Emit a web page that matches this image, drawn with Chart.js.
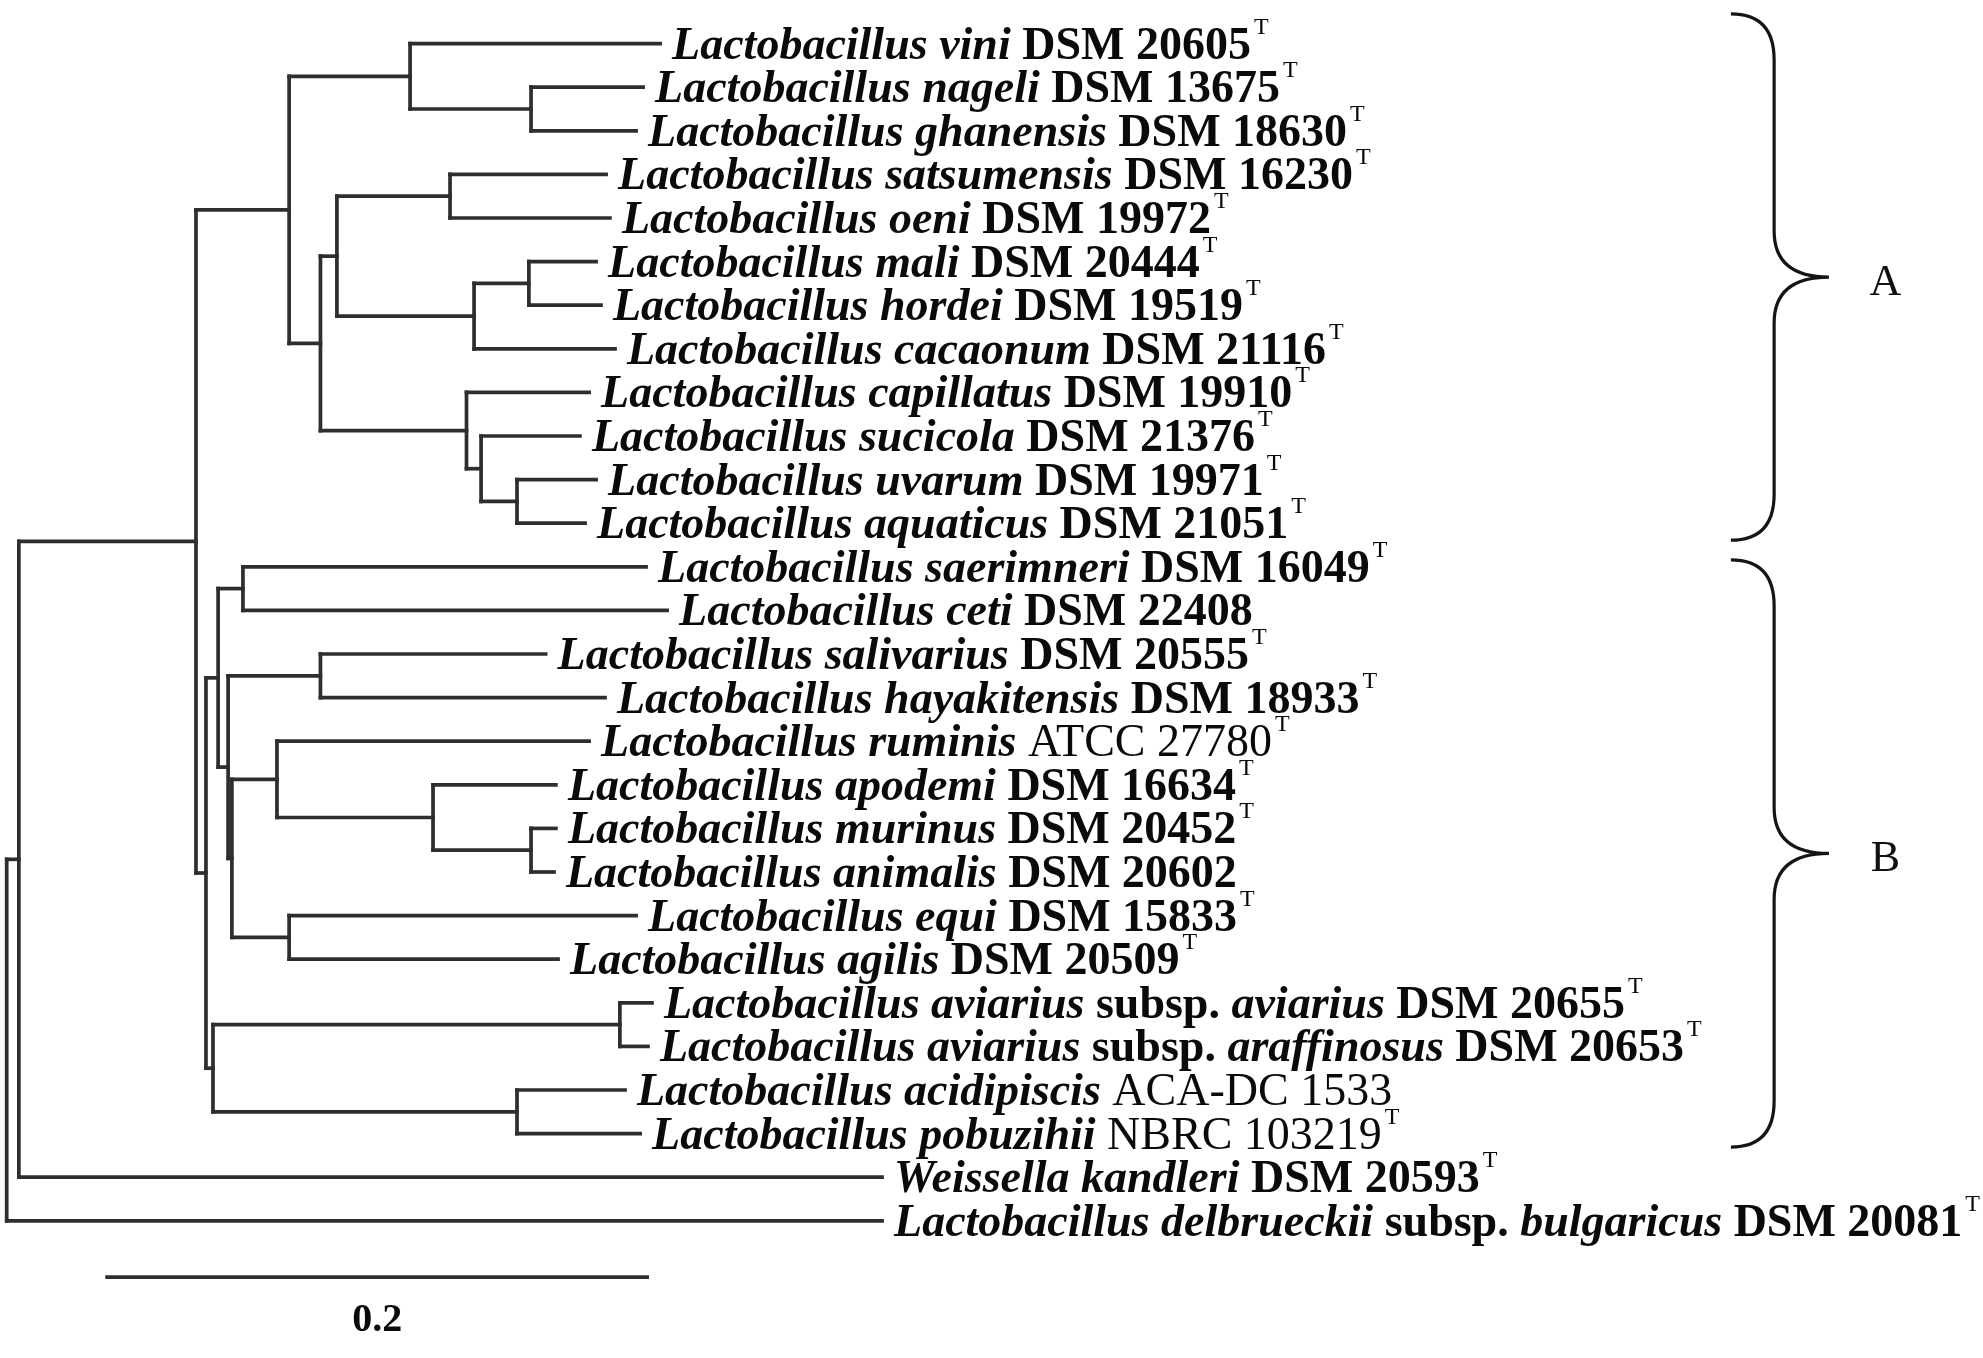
<!DOCTYPE html>
<html>
<head>
<meta charset="utf-8">
<script src="https://cdn.jsdelivr.net/npm/chart.js@4.4.1/dist/chart.umd.min.js"></script>
<style>
html,body{margin:0;padding:0;background:#fff;}
#wrap{width:1983px;height:1358px;position:relative;}
</style>
</head>
<body>
<div id="wrap"><canvas id="c" width="1983" height="1358"></canvas></div>
<script>
// ---------- DATA ----------
const leafGenus = ["Lactobacillus","Lactobacillus","Lactobacillus","Lactobacillus","Lactobacillus","Lactobacillus","Lactobacillus","Lactobacillus","Lactobacillus","Lactobacillus","Lactobacillus","Lactobacillus","Lactobacillus","Lactobacillus","Lactobacillus","Lactobacillus","Lactobacillus","Lactobacillus","Lactobacillus","Lactobacillus","Lactobacillus","Lactobacillus","Lactobacillus","Lactobacillus","Lactobacillus","Lactobacillus","Weissella","Lactobacillus"];
const leafSpecies = ["vini","nageli","ghanensis","satsumensis","oeni","mali","hordei","cacaonum","capillatus","sucicola","uvarum","aquaticus","saerimneri","ceti","salivarius","hayakitensis","ruminis","apodemi","murinus","animalis","equi","agilis","aviarius","aviarius","acidipiscis","pobuzihii","kandleri","delbrueckii"];
const leafSubsp = ["","","","","","","","","","","","","","","","","","","","","","","aviarius","araffinosus","","","","bulgaricus"];
const leafStrain = ["DSM 20605","DSM 13675","DSM 18630","DSM 16230","DSM 19972","DSM 20444","DSM 19519","DSM 21116","DSM 19910","DSM 21376","DSM 19971","DSM 21051","DSM 16049","DSM 22408","DSM 20555","DSM 18933","ATCC 27780","DSM 16634","DSM 20452","DSM 20602","DSM 15833","DSM 20509","DSM 20655","DSM 20653","ACA-DC 1533","NBRC 103219","DSM 20593","DSM 20081"];
const leafTypeStrain = [true,true,true,true,true,true,true,true,true,true,true,true,true,false,true,true,true,true,true,false,true,true,true,true,false,true,true,true];
// distance from root (substitutions per site)
const leafDepth = [0.2420,0.2357,0.2331,0.2220,0.2234,0.2183,0.2201,0.2253,0.2157,0.2123,0.2183,0.2142,0.2368,0.2446,0.1996,0.2216,0.2157,0.2034,0.2034,0.2027,0.2331,0.2042,0.2390,0.2375,0.2290,0.2346,0.3242,0.3242];
const leafParent = [4,5,5,8,8,10,10,9,11,12,13,13,16,16,18,18,20,21,22,22,23,23,25,25,26,26,1,0];
// internal nodes
const nodeDepth = [0,0.0045,0.0701,0.1046,0.1494,0.1942,0.1162,0.1223,0.1642,0.1731,0.1934,0.1703,0.1757,0.1890,0.0738,0.0783,0.0875,0.0820,0.1162,0.0834,0.1001,0.1579,0.1942,0.1046,0.0764,0.2271,0.1890];
const nodeParent = [-1,0,1,2,3,4,3,6,7,7,9,6,11,12,2,14,15,15,17,17,19,20,21,19,14,24,24];
// clusters (extent in leaf-row units)
const clusterNames = ["A","B"];
const clusterTop = [-0.68, 11.84];
const clusterBottom = [11.39, 25.31];
// scale bar
const scaleBarLength = 0.2;
const scaleBarLabel = "0.2";

// ---------- TREE GEOMETRY (from data) ----------
const nNodes = nodeDepth.length;
const kids = Array.from({length:nNodes},()=>[]);
leafParent.forEach((p,i)=>kids[p].push({leaf:true,i}));
nodeParent.forEach((p,i)=>{ if(p>=0) kids[p].push({leaf:false,i}); });
const nodeY = new Array(nNodes);
function yOf(c){ return c.leaf ? c.i : calcNode(c.i); }
function calcNode(n){
  if(nodeY[n]!==undefined) return nodeY[n];
  const ys = kids[n].map(yOf);
  nodeY[n] = (Math.min(...ys)+Math.max(...ys))/2;
  return nodeY[n];
}
calcNode(0);
const segs = [];
for(let n=0;n<nNodes;n++){
  const ys = kids[n].map(yOf);
  segs.push([{x:nodeDepth[n],y:Math.min(...ys)},{x:nodeDepth[n],y:Math.max(...ys)}]);
  kids[n].forEach(c=>{
    const d = c.leaf ? leafDepth[c.i] : nodeDepth[c.i];
    segs.push([{x:nodeDepth[n],y:yOf(c)},{x:d,y:yOf(c)}]);
  });
}
// scale bar placement (data units)
const barX0 = 0.0372, barY = 28.29;
segs.push([{x:barX0,y:barY},{x:barX0+scaleBarLength,y:barY}]);

const LINE = '#2e2e2e';
const datasets = segs.map(s=>({data:s,showLine:true,borderColor:LINE,borderWidth:3.7,pointRadius:0,borderCapStyle:'square',fill:false,clip:false}));

const FONT = '"Liberation Serif","Times New Roman",serif';
const labelsPlugin = {
  id:'labels',
  afterDatasetsDraw(chart){
    const ctx = chart.ctx, xs = chart.scales.x, ys = chart.scales.y;
    ctx.save();
    ctx.fillStyle = '#0a0a0a';
    ctx.textBaseline = 'alphabetic';
    ctx.textAlign = 'left';
    for(let i=0;i<leafGenus.length;i++){
      let x = xs.getPixelForValue(leafDepth[i]) + 12;
      const y = ys.getPixelForValue(i) + 15;
      const parts = [[leafGenus[i],'italic bold'],[' '+leafSpecies[i],'italic bold']];
      if(leafSubsp[i]){ parts.push([' subsp.','bold']); parts.push([' '+leafSubsp[i],'italic bold']); }
      const reg = /^(ATCC|NBRC|ACA)/.test(leafStrain[i]);
      parts.push([' '+leafStrain[i], reg ? 'normal' : 'bold']);
      parts.forEach(([t,st])=>{
        ctx.font = st+' 46px '+FONT;
        ctx.fillText(t,x,y);
        x += ctx.measureText(t).width;
      });
      if(leafTypeStrain[i]){
        ctx.font = 'normal 24px '+FONT;
        ctx.fillText('T',x+3,y-25);
      }
    }
    // scale bar label
    ctx.font = 'bold 40px '+FONT;
    ctx.textAlign = 'center';
    ctx.textBaseline = 'middle';
    ctx.fillText(scaleBarLabel, xs.getPixelForValue(barX0+scaleBarLength/2), ys.getPixelForValue(29.28));
    // cluster braces
    const bx0 = xs.getPixelForValue(0.6386), bx1 = xs.getPixelForValue(0.6546), bx2 = xs.getPixelForValue(0.6749);
    ctx.strokeStyle = '#151515';
    ctx.lineWidth = 3.2;
    clusterNames.forEach((nm,k)=>{
      const top = ys.getPixelForValue(clusterTop[k]);
      const bot = ys.getPixelForValue(clusterBottom[k]);
      const mid = (top+bot)/2;
      const r = 46;
      ctx.beginPath();
      ctx.moveTo(bx0,top);
      ctx.quadraticCurveTo(bx1,top,bx1,top+r);
      ctx.lineTo(bx1,mid-r);
      ctx.quadraticCurveTo(bx1,mid,bx2,mid);
      ctx.quadraticCurveTo(bx1,mid,bx1,mid+r);
      ctx.lineTo(bx1,bot-r);
      ctx.quadraticCurveTo(bx1,bot,bx0,bot);
      ctx.stroke();
      ctx.font = 'normal 44px '+FONT;
      ctx.textAlign = 'center';
      ctx.textBaseline = 'middle';
      ctx.fillStyle = '#111';
      ctx.fillText(nm, xs.getPixelForValue(0.6958), mid+6);
    });
    ctx.restore();
  }
};

new Chart(document.getElementById('c'),{
  type:'scatter',
  data:{datasets},
  options:{
    responsive:false,
    animation:false,
    devicePixelRatio:1,
    layout:{padding:0},
    plugins:{legend:{display:false},tooltip:{enabled:false}},
    scales:{
      x:{type:'linear',display:false,min:-6.7/2700,max:(1983-6.7)/2700},
      y:{type:'linear',display:false,reverse:true,min:-1,max:1358/43.6-1}
    }
  },
  plugins:[labelsPlugin]
});
</script>
</body>
</html>
